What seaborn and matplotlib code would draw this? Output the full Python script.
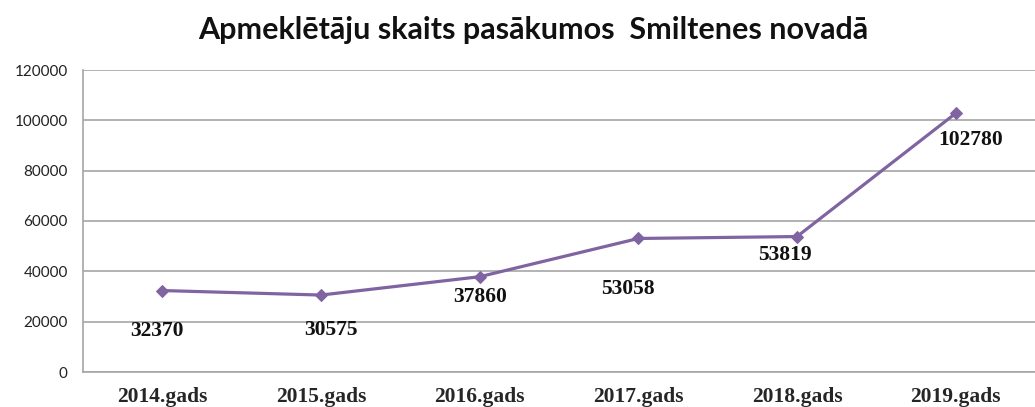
import matplotlib
matplotlib.use("Agg")
import matplotlib.pyplot as plt
import seaborn as sns
import pandas as pd
import numpy as np

# Data
years = ["2014.gads", "2015.gads", "2016.gads", "2017.gads", "2018.gads", "2019.gads"]
visitors = [32370, 30575, 37860, 53058, 53819, 102780]
title = "Apmeklētāju skaits pasākumos  Smiltenes novadā"

# label offsets in pixels (dx, dy), hand placed like the original
label_offsets = [(-5, -40), (10, -35), (0, -20), (-10, -51), (-12, -18), (15, -27)]

df = pd.DataFrame({"year": years, "visitors": visitors})
df["pos"] = np.arange(len(years))

sns.set_style("white")
plt.rcParams["font.family"] = ["Lato", "DejaVu Sans"]

fig = plt.figure(figsize=(10.35, 4.07), dpi=100)
ax = fig.add_axes([83 / 1035, 35 / 407, 952 / 1035, 302 / 407])

grid_c = "#a6a6a6"
purple = "#8064a2"

sns.lineplot(data=df, x="pos", y="visitors", ax=ax, color=purple, linewidth=2.3,
             marker="D", markersize=6.5, markeredgecolor=purple, zorder=3)

ax.set_ylim(0, 120000)
ax.set_yticks(np.arange(0, 120001, 20000))
ax.set_xlim(-0.5, -0.5 + 952 / 161)
ax.yaxis.grid(True, color=grid_c, linewidth=1.2)
ax.set_axisbelow(True)

# category boundary ticks, labels centered between
ax.set_xticks(np.arange(-0.5, len(years), 1.0))
ax.set_xticklabels([])
ax.set_xticks(np.arange(len(years)), minor=True)
ax.set_xticklabels(years, minor=True, family=["Liberation Serif"], fontweight="bold", fontsize=15.5)
ax.tick_params(axis="x", which="minor", length=0, pad=11)
ax.tick_params(axis="x", which="major", length=5, color=grid_c, width=1.2, direction="out")
ax.tick_params(axis="y", length=5, color=grid_c, width=1.2, direction="out", labelsize=11, pad=6)
for lab in ax.get_yticklabels():
    lab.set_color("#222222")

for s in ["top", "right"]:
    ax.spines[s].set_visible(False)
for s in ["left", "bottom"]:
    ax.spines[s].set_color(grid_c)
    ax.spines[s].set_linewidth(1.2)

ax.set_xlabel("")
ax.set_ylabel("")

for i, v in enumerate(visitors):
    dx, dy = label_offsets[i]
    ax.annotate(str(v), (i, v), xytext=(dx * 0.72, dy * 0.72), textcoords="offset points",
                ha="center", va="center", family=["Liberation Serif"], fontweight="bold",
                fontsize=15.5, color="#111111")

fig.text(533 / 1035, 1 - 30 / 407, title, ha="center", va="center",
         fontsize=22, fontweight="bold", color="#111111")

fig.savefig("out.png", dpi=100)
